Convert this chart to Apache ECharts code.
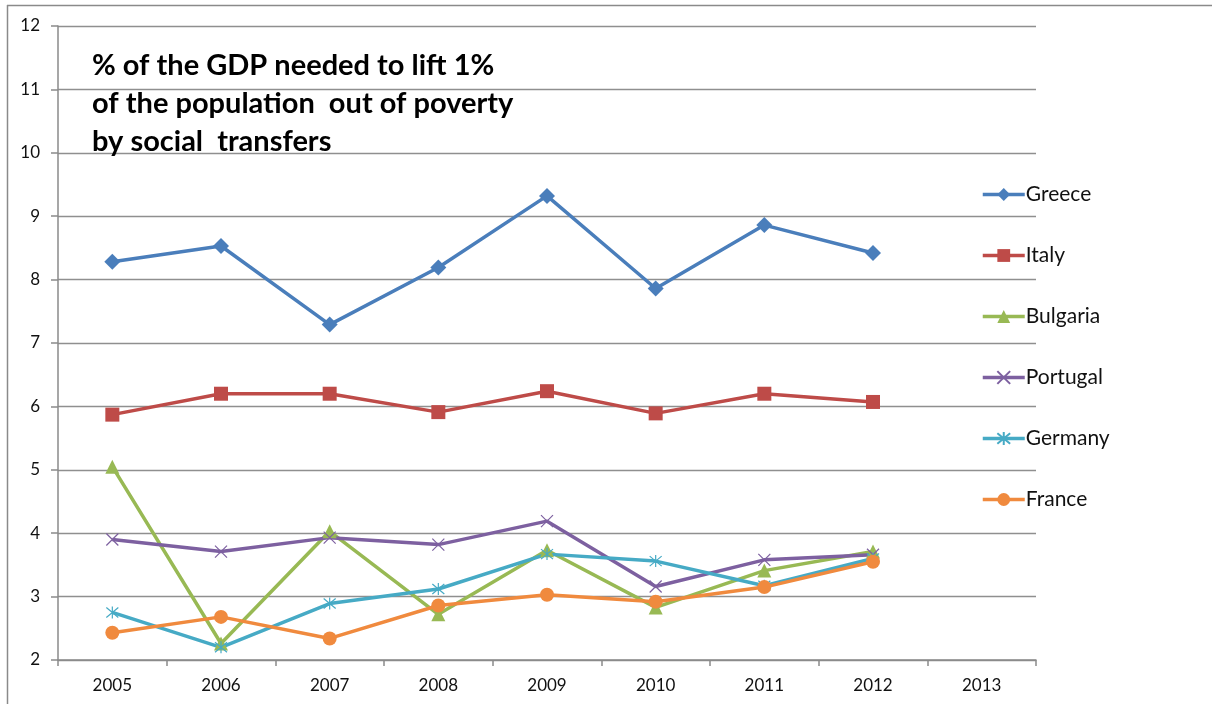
<!DOCTYPE html>
<html>
<head>
<meta charset="utf-8">
<style>html,body{margin:0;padding:0;background:#fff}#c{width:1212px;height:704px}</style>
<script src="https://cdn.jsdelivr.net/npm/echarts@6/dist/echarts.min.js"></script>
</head>
<body>
<div id="c"></div>
<script>
const years = ['2005','2006','2007','2008','2009','2010','2011','2012','2013'];
const yTicks = [2,3,4,5,6,7,8,9,10,11,12];
const titleLines = ['% of the GDP needed to lift 1%', 'of the population  out of poverty', 'by social  transfers'];
const greece   = [8.28, 8.53, 7.29, 8.19, 9.32, 7.86, 8.86, 8.42];
const italy    = [5.87, 6.20, 6.20, 5.91, 6.24, 5.89, 6.20, 6.07];
const bulgaria = [5.05, 2.26, 4.03, 2.72, 3.73, 2.83, 3.41, 3.71];
const portugal = [3.90, 3.71, 3.93, 3.82, 4.19, 3.16, 3.58, 3.66];
const germany  = [2.75, 2.20, 2.89, 3.12, 3.67, 3.56, 3.17, 3.60];
const france   = [2.43, 2.68, 2.34, 2.86, 3.03, 2.92, 3.15, 3.55];

const FONT = 'Lato, "Liberation Sans", sans-serif';
const xSym = 'path://M0,0L10,10M10,0L0,10';
const starSym = 'path://M0,0L10,10M10,0L0,10M5,-1L5,11';

function mk(name, data, color, symbol, size, stroke) {
  return {
    name, type: 'line', data, symbol, symbolSize: size,
    showAllSymbol: true,
    lineStyle: { color, width: 3.5 },
    itemStyle: stroke ? { color: 'rgba(0,0,0,0)', borderColor: color, borderWidth: 1.2, opacity: 1 }
                      : { color, borderColor: color, borderWidth: 0 },
    emphasis: { disabled: true },
    animation: false, z: 3
  };
}

const chart = echarts.init(document.getElementById('c'), null, { renderer: 'canvas' });
chart.setOption({
  animation: false,
  backgroundColor: '#fff',
  textStyle: { fontFamily: FONT },
  title: {
    text: titleLines.join('\n'),
    left: 87, top: 42,
    textStyle: { fontFamily: FONT, fontWeight: 'bold', fontSize: 29, lineHeight: 38, color: '#000' }
  },
  legend: {
    orient: 'vertical',
    left: 981, top: 184,
    padding: 0,
    itemWidth: 42, itemHeight: 16, itemGap: 40,
    lineStyle: { width: 3.5 },
    textStyle: { fontFamily: FONT, fontSize: 21, color: '#111', padding: [0,0,0,-4] },
    data: ['Greece','Italy','Bulgaria','Portugal','Germany','France']
  },
  grid: { left: 58, right: 176, top: 26, bottom: 44, containLabel: false },
  xAxis: {
    type: 'category', data: years, boundaryGap: true,
    axisLine: { lineStyle: { color: '#8a8a8a', width: 1.5 } },
    axisTick: { show: true, length: 6, lineStyle: { color: '#8a8a8a', width: 1.5 } },
    axisLabel: { fontFamily: FONT, fontSize: 17, color: '#111', margin: 17 },
    splitLine: { show: false }
  },
  yAxis: {
    type: 'value', min: yTicks[0], max: yTicks[yTicks.length-1], interval: 1,
    axisLine: { show: true, lineStyle: { color: '#8a8a8a', width: 1.5 } },
    axisTick: { show: true, length: 7, lineStyle: { color: '#8a8a8a', width: 1.5 } },
    axisLabel: { fontFamily: FONT, fontSize: 17, color: '#111', margin: 18 },
    splitLine: { show: true, lineStyle: { color: '#8f8f8f', width: 1.3 } }
  },
  graphic: [
    { type: 'line', shape: { x1: 7, y1: 5.5, x2: 1212, y2: 5.5 }, style: { stroke: '#8a8a8a', lineWidth: 1.5 }, silent: true },
    { type: 'line', shape: { x1: 7.5, y1: 5, x2: 7.5, y2: 704 }, style: { stroke: '#8a8a8a', lineWidth: 1.5 }, silent: true }
  ],
  series: [
    mk('Greece', greece, '#4a7ebb', 'diamond', 16),
    mk('Italy', italy, '#be4b48', 'rect', 14),
    mk('Bulgaria', bulgaria, '#98b954', 'triangle', 14),
    mk('Portugal', portugal, '#7d60a0', xSym, 12, true),
    mk('Germany', germany, '#46aac5', starSym, 12, true),
    mk('France', france, '#f08a3e', 'circle', 14)
  ]
});
</script>
</body>
</html>
